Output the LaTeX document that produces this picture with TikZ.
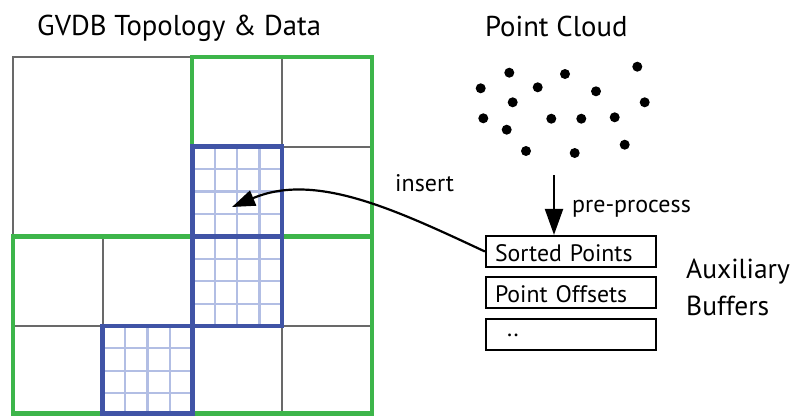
\documentclass[tikz,border=0pt]{standalone}
\usepackage{fontspec}
\setmainfont{PT Sans}
\usetikzlibrary{arrows.meta}
\definecolor{quadgreen}{RGB}{61,181,74}
\definecolor{brickblue}{RGB}{64,84,166}
\definecolor{voxelblue}{RGB}{178,190,228}
\definecolor{cellgray}{RGB}{105,105,105}
\tikzset{
  txt/.style={anchor=base west, inner sep=0pt, font=\fontsize{24}{28}\selectfont},
  buffer/.style={draw, line width=2.2pt, minimum width=170pt, text width=152pt, align=left,
    inner xsep=9pt, inner ysep=2.5pt, text height=23pt, text depth=3pt,
    font=\fontsize{23.8}{28}\selectfont},
  cellline/.style={draw=cellgray, line width=2.3pt},
  quad/.style={draw=quadgreen, line width=4.2pt},
  brick/.style={draw=brickblue, line width=4.6pt},
  voxel/.style={draw=voxelblue, line width=2.1pt},
  flow/.style={line width=2.2pt, -{Triangle[length=26pt, width=18pt]}},
  curvearrow/.style={line width=2.2pt, -{Triangle[length=23pt, width=16pt]}},
}
\begin{document}
\begin{tikzpicture}[x=1pt, y=-1pt]
\useasboundingbox (0,0) rectangle (795,415);

% grid coordinates of the 4x4 cell layout
\def\xa{13}\def\xb{102.7}\def\xc{192.3}\def\xd{282}\def\xe{371.7}
\def\ya{57}\def\yb{146.7}\def\yc{236.5}\def\yd{326}\def\ye{413.5}

% gray cells
\draw[cellline] (\xa,\ya) rectangle (\xc,\yc);
\draw[cellline] (\xd,\ya) -- (\xd,\ye);
\draw[cellline] (\xc,\yb) -- (\xe,\yb);
\draw[cellline] (\xb,\yc) -- (\xb,\ye);
\draw[cellline] (\xa,\yd) -- (\xe,\yd);

% voxel subdivision of the three bricks
\foreach \bx/\by in {\xc/\yb, \xc/\yc, \xb/\yd} {
  \foreach \k in {1,2,3} {
    \draw[voxel] ({\bx+\k*22.4},\by) -- ++(0,89.5);
    \draw[voxel] (\bx,{\by+\k*22.4}) -- ++(89.6,0);
  }
}

% green topology quadrants
\draw[quad] (\xc,\ya) rectangle (\xe,\yc);
\draw[quad] (\xa,\yc) rectangle (\xc,\ye);
\draw[quad] (\xc,\yc) rectangle (\xe,\ye);

% blue bricks
\draw[brick] (\xc,\yb) rectangle (\xd,\yc);
\draw[brick] (\xc,\yc) rectangle (\xd,\yd);
\draw[brick] (\xb,\yd) rectangle (\xc,\ye);

% titles
\node[txt, font=\fontsize{28.7}{32}\selectfont] (gvdb) at (37,35) {GVDB Topology \& Data};
\node[txt, font=\fontsize{28.7}{32}\selectfont] (cloud) at (485,36) {Point Cloud};

% point cloud
\foreach \px/\py in {509.3/72.7, 565/74, 637.3/66.7, 480.7/88.3, 537.7/87.3, 596/91.3,
  512.7/102.3, 644.7/102.3, 483.3/118.3, 551.3/118.7, 581.3/118.7, 614.7/117.3,
  506.7/129.7, 526/151, 574.7/153, 624.7/144.7}
  \fill (\px,\py) circle (5pt);

% auxiliary buffers
\node[buffer] (sorted) at (571,251.5) {Sorted Points};
\node[buffer] (offsets) at (571,292.5) {Point Offsets};
\node[buffer] (more) at (571,334.5) {\hspace*{12pt}\raisebox{8pt}{..}};
\node[txt, font=\fontsize{27.5}{32}\selectfont] (aux) at (686,278.3) {Auxiliary};
\node[txt, font=\fontsize{27.5}{32}\selectfont] (buffers) at (686,315) {Buffers};

% connectors
\coordinate (ppstart) at (554,175);
\draw[flow] (ppstart) -- (ppstart |- sorted.north);
\node[txt] (pp) at (572,212) {pre-process};

\coordinate (target) at (232,207);
\draw[curvearrow] (sorted.west) .. controls (394,209) and (315,172) .. (target);
\node[txt] (ins) at (395,191.7) {insert};
\end{tikzpicture}
\end{document}
